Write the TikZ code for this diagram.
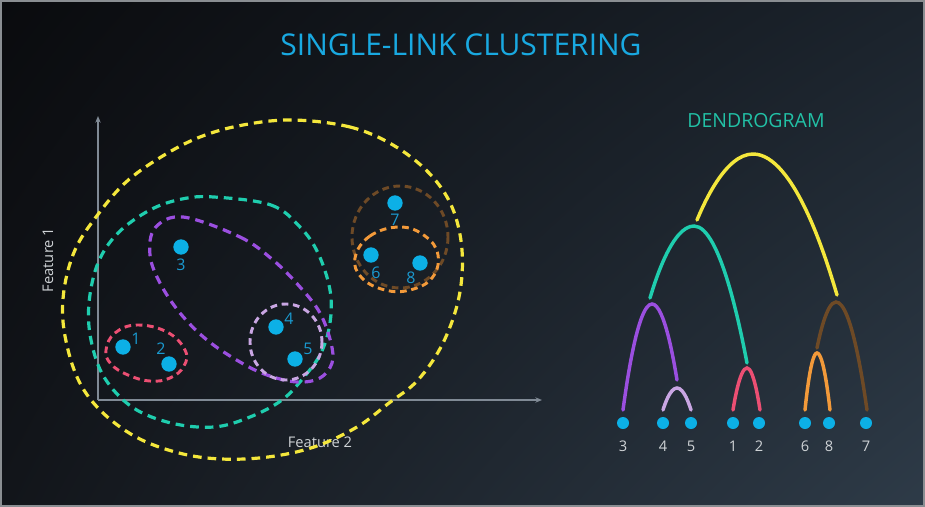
\documentclass[tikz,border=0pt]{standalone}
\usepackage{fontspec}
\setmainfont{Open Sans}
\usetikzlibrary{arrows.meta,shadings}
\definecolor{bgUL}{HTML}{0A0B0E}
\definecolor{bgUR}{HTML}{1B232C}
\definecolor{bgLL}{HTML}{12151A}
\definecolor{bgLR}{HTML}{2E3B48}
\definecolor{framegray}{HTML}{8A8E92}
\definecolor{titleblue}{HTML}{19A9E1}
\definecolor{dotblue}{HTML}{0CB0E6}
\definecolor{lblblue}{HTML}{1A9AD0}
\definecolor{cteal}{HTML}{1FCDAE}
\definecolor{dteal}{HTML}{22C1A6}
\definecolor{cyellow}{HTML}{F4E73C}
\definecolor{cpurple}{HTML}{9B4FE0}
\definecolor{clav}{HTML}{C9A6E3}
\definecolor{cpink}{HTML}{EC4F73}
\definecolor{corange}{HTML}{F39A3A}
\definecolor{cbrown}{HTML}{6E4A26}
\definecolor{axisgray}{HTML}{808A95}
\definecolor{lblgray}{HTML}{CFD3D6}
\begin{document}
\begin{tikzpicture}[x=0.75pt,y=-0.75pt,
  titlestyle/.style={text=titleblue,font=\fontsize{22.5}{26}\selectfont,inner sep=0},
  subtitle/.style={text=dteal,font=\fontsize{14.6}{17}\selectfont,inner sep=0},
  featlbl/.style={text=lblgray,font=\fontsize{11}{13}\selectfont,inner sep=0},
  numlbl/.style={text=lblblue,font=\fontsize{12}{14}\selectfont,inner sep=0},
  dlbl/.style={text=lblgray,font=\fontsize{11}{13}\selectfont,inner sep=0},
  pt/.style={circle,fill=dotblue,inner sep=0,minimum size=11.5pt},
  dpt/.style={circle,fill=dotblue,inner sep=0,minimum size=9pt},
  axisline/.style={draw=axisgray,line width=1.1pt,-{Stealth[length=5pt,width=4pt]}},
  clus/.style={line width=2.4pt,dash pattern=on 6.5pt off 4.5pt},
  sclus/.style={line width=2.2pt,dash pattern=on 5pt off 3.5pt},
  arch/.style={line width=2.6pt,line cap=round}
]
\useasboundingbox (0,0) rectangle (925,507);
\shade[upper left=bgUL,upper right=bgUR,lower left=bgLL,lower right=bgLR] (0,0) rectangle (925,507);
\draw[framegray,line width=1.3pt] (1,1) rectangle (924,506);

% title
\node[titlestyle] (title) at (461,45) {SINGLE-LINK CLUSTERING};

% axes
\coordinate (origin) at (98,400);
\coordinate (ytop) at (98,116);
\coordinate (xend) at (542,400);
\draw[axisline] (origin) -- (ytop);
\draw[axisline] (origin) -- (xend);
\node[featlbl,rotate=90] (f1) at (48,260) {Feature 1};
\node[featlbl] (f2) at (320,442) {Feature 2};

% clusters
\draw[clus,cyellow] plot[smooth cycle,tension=0.6] coordinates {
 (293,120) (350,127) (393,145) (429,173) (452,207) (462,250) (459,297) (443,343)
 (418,380) (389,403) (357,427) (314,447) (268,457) (221,459) (179,453) (136,437)
 (100,410) (77,377) (64,330) (64,290) (75,250) (96,217) (125,183) (161,157)
 (200,137) (243,125)};
\draw[clus,cteal] plot[smooth cycle,tension=0.6] coordinates {
 (214,197) (271,205) (300,227) (318,253) (330,290) (330,323) (321,353) (304,377)
 (282,400) (250,417) (214,427) (171,423) (132,407) (104,377) (91,340) (89,303)
 (98,263) (118,233) (150,210) (182,199)};
\draw[clus,cpurple] plot[smooth cycle,tension=0.6] coordinates {
 (183,217) (240,237) (273,260) (300,287) (320,313) (331,343) (332,363) (320,378)
 (297,382) (267,375) (240,362) (207,340) (180,313) (160,283) (150,255) (155,228)};
\draw[sclus,clav] (286,342) ellipse [x radius=36,y radius=38];
\draw[sclus,cpink] plot[smooth cycle,tension=0.7] coordinates {
 (106,350) (115,333) (137,325) (167,332) (185,350) (184,366) (170,378) (150,381)
 (128,375) (111,364)};
\draw[sclus,cbrown] (400,237) ellipse [x radius=48,y radius=51];
\draw[sclus,corange] plot[smooth cycle,tension=0.7] coordinates {
 (355,258) (370,236) (400,227) (425,236) (438,255) (432,278) (410,290) (385,290)
 (362,278)};

% points
\node[pt] (p1) at (123,347) {};
\node[pt] (p2) at (169,364) {};
\node[pt] (p3) at (181,247) {};
\node[pt] (p4) at (276,327) {};
\node[pt] (p5) at (295,359) {};
\node[pt] (p6) at (371,255) {};
\node[pt] (p7) at (395,203) {};
\node[pt] (p8) at (420,263) {};
\node[numlbl] (l1) at (136,339) {1};
\node[numlbl] (l2) at (161,349) {2};
\node[numlbl] (l3) at (181,265) {3};
\node[numlbl] (l4) at (289,319) {4};
\node[numlbl] (l5) at (308,349) {5};
\node[numlbl] (l6) at (376,273) {6};
\node[numlbl] (l7) at (395,220) {7};
\node[numlbl] (l8) at (411,278) {8};

% dendrogram
\node[subtitle] (dtitle) at (756,121) {DENDROGRAM};
\foreach \n/\x in {3/623,4/663,5/691,1/733,2/759,6/805,8/829,7/866}{
  \node[dpt] (g\n) at (\x,423) {};
  \node[dlbl] (gl\n) at (\x,446) {\n};
}
\coordinate (lavL) at (663,410); \coordinate (lavT) at (677,388); \coordinate (lavR) at (691,410);
\coordinate (pinL) at (733,410); \coordinate (pinT) at (747,368); \coordinate (pinR) at (760,410);
\coordinate (oraL) at (805,410); \coordinate (oraT) at (817,353); \coordinate (oraR) at (830,410);
\coordinate (purL) at (623,410); \coordinate (purT) at (652,304); \coordinate (purR) at (677,380);
\coordinate (broL) at (817,348); \coordinate (broT) at (836,302); \coordinate (broR) at (867,410);
\coordinate (teaL) at (650,298); \coordinate (teaT) at (694,226); \coordinate (teaR) at (747,363);
\coordinate (yelL) at (697,220); \coordinate (yelT) at (753,154); \coordinate (yelR) at (837,295);
\draw[arch,clav] (lavL) parabola bend (lavT) (lavR);
\draw[arch,cpink] (pinL) parabola bend (pinT) (pinR);
\draw[arch,corange] (oraL) parabola bend (oraT) (oraR);
\draw[arch,cpurple] (purL) parabola bend (purT) (purR);
\draw[arch,cbrown] (broL) parabola bend (broT) (broR);
\draw[arch,cteal] (teaL) parabola bend (teaT) (teaR);
\draw[arch,cyellow] (yelL) parabola bend (yelT) (yelR);
\end{tikzpicture}
\end{document}
